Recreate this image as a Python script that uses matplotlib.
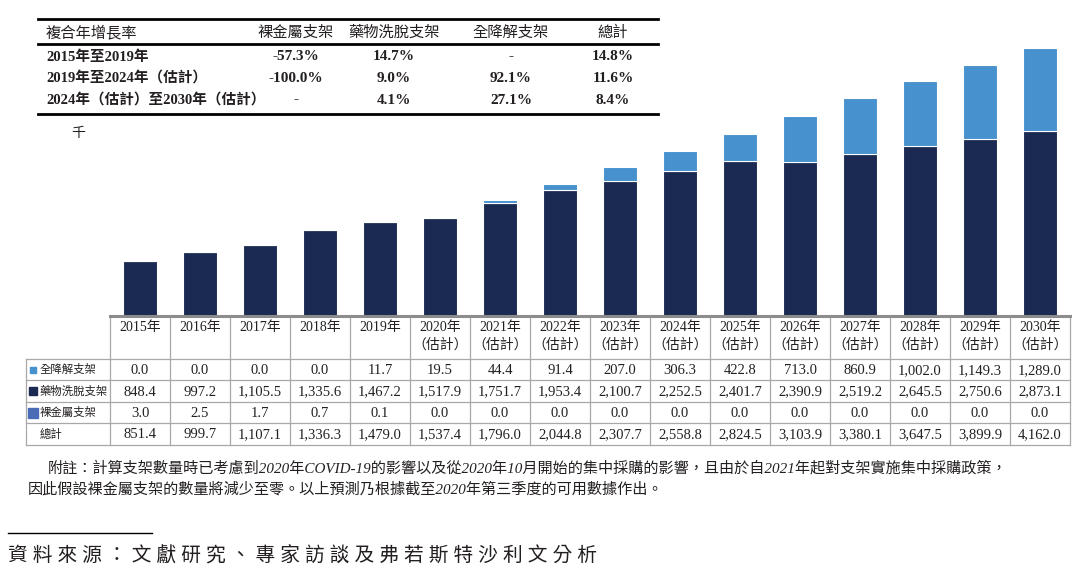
import matplotlib
matplotlib.use("Agg")
import matplotlib.pyplot as plt

plt.rcParams['font.family'] = ['Liberation Serif', 'Noto Sans CJK TC', 'DejaVu Sans']

# ---- data ----
years = ['2015年', '2016年', '2017年', '2018年', '2019年', '2020年', '2021年', '2022年',
         '2023年', '2024年', '2025年', '2026年', '2027年', '2028年', '2029年', '2030年']
estimated = [False] * 5 + [True] * 11

bioresorbable = [0.0, 0.0, 0.0, 0.0, 11.7, 19.5, 44.4, 91.4, 207.0, 306.3, 422.8,
                 713.0, 860.9, 1002.0, 1149.3, 1289.0]
drug_eluting = [848.4, 997.2, 1105.5, 1335.6, 1467.2, 1517.9, 1751.7, 1953.4, 2100.7,
                2252.5, 2401.7, 2390.9, 2519.2, 2645.5, 2750.6, 2873.1]
bare_metal = [3.0, 2.5, 1.7, 0.7, 0.1, 0.0, 0.0, 0.0, 0.0, 0.0, 0.0, 0.0, 0.0, 0.0, 0.0, 0.0]
total = [851.4, 999.7, 1107.1, 1336.3, 1479.0, 1537.4, 1796.0, 2044.8, 2307.7, 2558.8,
         2824.5, 3103.9, 3380.1, 3647.5, 3899.9, 4162.0]

series_names = ['全降解支架', '藥物洗脫支架', '裸金屬支架']

cagr_header = ['複合年增長率', '裸金屬支架', '藥物洗脫支架', '全降解支架', '總計']
cagr_periods = ['2015年至2019年', '2019年至2024年（估計）', '2024年（估計）至2030年（估計）']
cagr_bare = ['-57.3%', '-100.0%', '-']
cagr_drug = ['14.7%', '9.0%', '4.1%']
cagr_bio = ['-', '92.1%', '27.1%']
cagr_total = ['14.8%', '11.6%', '8.4%']

note_lines = ['附註：計算支架數量時已考慮到2020年COVID-19的影響以及從2020年10月開始的集中採購的影響，且由於自2021年起對支架實施集中採購政策，',
              '因此假設裸金屬支架的數量將減少至零。以上預測乃根據截至2020年第三季度的可用數據作出。']
source_text = '資料來源：文獻研究、專家訪談及弗若斯特沙利文分析'

NAVY = '#1b2a52'
LIGHT = '#4691ce'
BARE = '#4a6cb6'
TXT = '#231f20'
GRID = '#a8a8a8'

W, H = 1080, 580
fig = plt.figure(figsize=(W / 100, H / 100), dpi=100)


def box(l, t, r, b):
    return [l / W, 1 - b / H, (r - l) / W, (b - t) / H]


# overlay for free text, pixel coordinates
over = fig.add_axes([0, 0, 1, 1])
over.set_xlim(0, W)
over.set_ylim(H, 0)
over.axis('off')

# ---- bars ----
ax = fig.add_axes(box(110, 20, 1070, 316))
x = list(range(len(years)))
ax.bar(x, bare_metal, width=0.58, color=BARE, edgecolor='white', linewidth=0.8)
b1 = [a for a in bare_metal]
ax.bar(x, drug_eluting, width=0.58, bottom=b1, color=NAVY, edgecolor='white', linewidth=0.8)
b2 = [a + b for a, b in zip(bare_metal, drug_eluting)]
ax.bar(x, bioresorbable, width=0.58, bottom=b2, color=LIGHT, edgecolor='white', linewidth=0.8)
ax.set_xlim(-0.5, len(years) - 0.5)
ax.set_ylim(0, 4597)
ax.axis('off')

# ---- data table under the bars ----
tb = fig.add_axes(box(26, 316, 1070, 446))
tb.set_xlim(-1.9, len(years) - 0.5)
tb.set_ylim(130, 0)
tb.axis('off')
row_y = [43, 64, 86, 107, 129]
n = len(years)
for i in range(n + 1):
    tb.plot([i - 0.5, i - 0.5], [0, 129], color=GRID, lw=0.9, clip_on=False)
tb.plot([-1.9, -1.9], [43, 129], color=GRID, lw=0.9, clip_on=False)
for yy in row_y:
    tb.plot([-1.9, n - 0.5], [yy, yy], color=GRID, lw=0.9, clip_on=False)
tb.plot([-0.5, n - 0.5], [0, 0], color='#8c8c8c', lw=2.2, clip_on=False)

for i, (yr, est) in enumerate(zip(years, estimated)):
    tb.text(i, 11, yr, ha='center', va='center', fontsize=10, color=TXT)
    if est:
        tb.text(i, 29, '（估計）', ha='center', va='center', fontsize=10, color=TXT)

rows = [bioresorbable, drug_eluting, bare_metal, total]
labels = series_names + ['總計']
markers = [(LIGHT, 4.5), (NAVY, 5.5), (BARE, 7.5), None]
for r, (vals, lab, mk) in enumerate(zip(rows, labels, markers)):
    yc = (row_y[r] + row_y[r + 1]) / 2
    if mk is not None:
        tb.plot(-1.78, yc, marker='s', color=mk[0], markersize=mk[1], clip_on=False)
    tb.text(-1.68, yc, lab, ha='left', va='center', fontsize=8.2, color=TXT)
    for i, v in enumerate(vals):
        tb.text(i, yc + 1, f'{v:,.1f}', ha='center', va='center', fontsize=10.5, color=TXT)

# ---- CAGR table ----
over.plot([38, 658], [19, 19], color='black', lw=2)
over.plot([38, 658], [44, 44], color='black', lw=2)
over.plot([38, 658], [114, 114], color='black', lw=2)
col_x = [296, 394, 511, 613]
over.text(46, 33, cagr_header[0], ha='left', va='center', fontsize=11, color=TXT)
for cx, h in zip(col_x, cagr_header[1:]):
    over.text(cx, 33, h, ha='center', va='center', fontsize=11, color=TXT)
for j, yy in enumerate([57, 78, 100]):
    over.text(46, yy, cagr_periods[j], ha='left', va='center', fontsize=10.5,
              fontweight='bold', color=TXT)
    for cx, col in zip(col_x, [cagr_bare, cagr_drug, cagr_bio, cagr_total]):
        over.text(cx, yy, col[j], ha='center', va='center', fontsize=11,
                  fontweight='bold', color=TXT)

over.text(78, 134, '千', ha='center', va='center', fontsize=10, color=TXT)

# ---- notes & source ----
over.text(48, 468, note_lines[0], ha='left', va='center', fontsize=10.9, style='italic', color=TXT)
over.text(28, 489, note_lines[1], ha='left', va='center', fontsize=10.9, style='italic', color=TXT)
over.plot([8, 152], [533, 533], color='black', lw=1)
over.text(8, 557, ' '.join(source_text), ha='left', va='center', fontsize=14.2,
          style='italic', color=TXT)

fig.savefig('out.png', dpi=100)
